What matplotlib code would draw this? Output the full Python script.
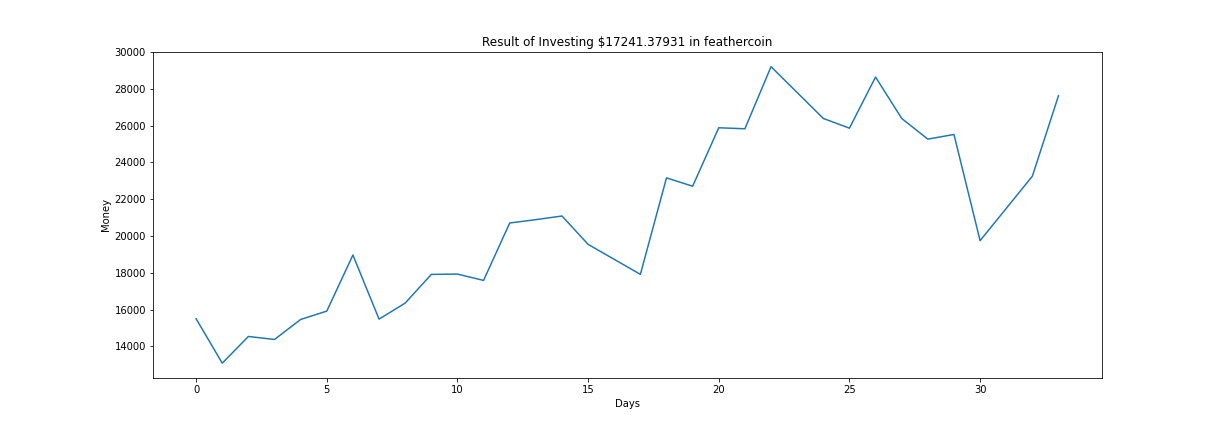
import matplotlib
matplotlib.use("Agg")
import matplotlib.pyplot as plt

days = list(range(34))
money = [15505, 13093, 14544, 14381, 15469, 15922, 18968, 15487, 16357, 17916,
         17934, 17590, 20709, 20890, 21089, 19548, 18733, 17918, 23160, 22707,
         25882, 25828, 29202, 27796, 26390, 25860, 28639, 26390, 25265, 25519,
         19751, 21500, 23252, 27623]

title = "Result of Investing $17241.37931 in feathercoin"

fig = plt.figure(figsize=(17, 6), dpi=72)
ax = fig.add_subplot(111)
fig.subplots_adjust(left=0.125, right=0.9, top=0.88, bottom=0.125)
ax.plot(days, money, color="#1f77b4", linewidth=1.5)
ax.set_title(title, fontsize=12)
ax.set_xlabel("Days", fontsize=10)
ax.set_ylabel("Money", fontsize=10)
ax.tick_params(labelsize=10)
fig.savefig("out.png", dpi=72)
